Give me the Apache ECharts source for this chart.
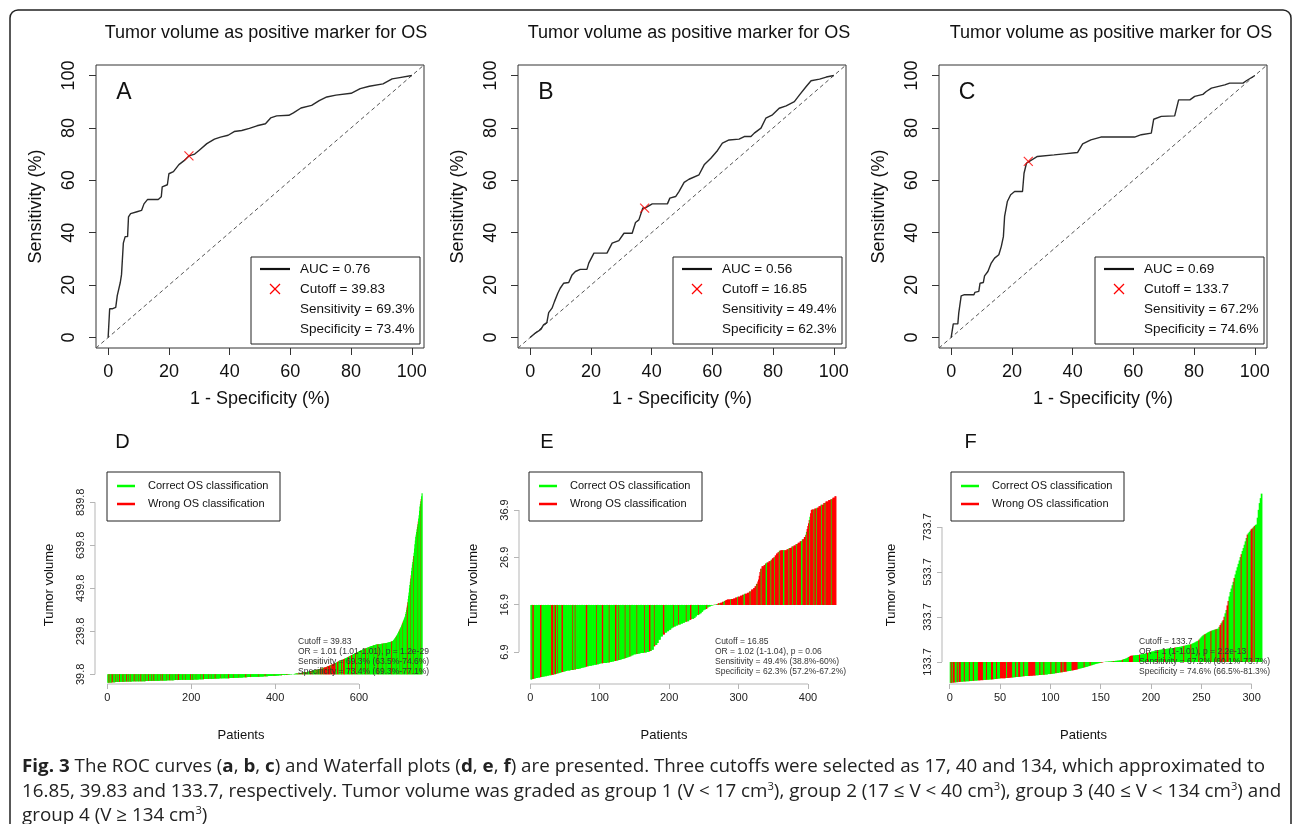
<!DOCTYPE html>
<html><head><meta charset="utf-8">
<script src="https://cdn.jsdelivr.net/npm/echarts@6/dist/echarts.min.js"></script>
<style>
html,body{margin:0;padding:0;background:#fff;overflow:hidden;width:1295px;height:824px;}
#chart{position:absolute;left:0;top:0;width:1295px;height:824px;}
#caption{position:absolute;left:22px;top:753px;font-family:"Open Sans",sans-serif;font-size:18.5px;line-height:24.5px;color:#222;white-space:nowrap;transform-origin:0 0;}
#caption b{font-weight:700;}
#caption sup{font-size:11px;line-height:0;vertical-align:super;}
#caption span{display:inline-block;}
</style></head><body>
<div id="chart"></div>
<div id="caption">
<div><span id="l1"><b>Fig. 3</b> The ROC curves (<b>a</b>, <b>b</b>, <b>c</b>) and Waterfall plots (<b>d</b>, <b>e</b>, <b>f</b>) are presented. Three cutoffs were selected as 17, 40 and 134, which approximated to</span></div>
<div><span>16.85, 39.83 and 133.7, respectively. Tumor volume was graded as group 1 (V &lt; 17 cm<sup>3</sup>), group 2 (17 ≤ V &lt; 40 cm<sup>3</sup>), group 3 (40 ≤ V &lt; 134 cm<sup>3</sup>) and</span></div>
<div><span>group 4 (V ≥ 134 cm<sup>3</sup>)</span></div>
</div>
<script>
// ---------------- DATA ----------------
const panelTitle = 'Tumor volume as positive marker for OS';
const rocTicks = [0, 20, 40, 60, 80, 100];
const rocAUC = [0.76, 0.56, 0.69];
const rocCutoff = ['39.83', '16.85', '133.7'];
const rocSens = [69.3, 49.4, 67.2];
const rocSpec = [73.4, 62.3, 74.6];

const A_fpr = [0,0.3,0.5,1.5,2.5,3,4,4.4,5,5.6,6.4,6.7,7.4,9.5,11,11.8,13,16.5,17.5,17.8,19.5,20,21.5,23.3,25,26.6,28.5,30,32.5,35,37,39.5,41.5,44,46.5,49,51.8,53.5,55.5,59.5,61,63.5,67,69.5,72,75,80,83,86,90.5,93.5,96,100];
const A_tpr = [0,0,11,11,11.5,16,21,24,36,38.5,38.5,46,47.3,48,48.5,51,52.7,52.7,53.7,57.5,58.3,62.5,63.3,66,67.5,69.3,70,71.5,74,75.7,76.5,77.2,78.6,79,79.8,80.8,81.6,83.8,84.6,84.8,85.7,87.6,88.6,90.4,91.8,92.5,93.2,95,95.9,96.8,98.7,99.2,100];
const B_fpr = [0,1.7,2.8,3.6,4.4,5.5,6.1,7.2,8,9.1,9.9,11,12.7,13.8,14.9,16.5,18.7,19.3,21,25.3,27,29.2,30.9,33.6,34.7,35.8,37.1,37.8,40.2,45.2,46,47.9,49,50.7,52.3,55.6,57.3,59.5,61.7,63.3,65.5,68.8,70.5,72.7,73.8,76,77.6,79.8,82,84.3,87,88.7,90.9,92.5,95.3,97.5,100];
const B_tpr = [0,1.7,2.5,3.2,4.8,5.7,9.5,11.2,13.7,16.9,18.8,20.7,21,23.9,25.2,26,26,28.4,32.2,32.2,36,37,39.8,39.8,43.9,44.9,49.4,49.4,51,51,53.2,53.8,55.7,59.2,60.4,62.1,65.9,68.4,71.4,74.2,75.4,75.7,76.7,76.7,78,79.9,83.7,85,87.5,88.4,90,92.6,95.8,98,98.6,99.4,100];
const C_fpr = [0,0.7,2.2,2.5,3.1,3.3,4.2,7.5,7.8,9.1,9.5,10.6,11,12.1,13.2,14.3,15.7,16.5,17.2,17.6,18.5,19.6,20.9,23.5,24,24.8,25.4,28.4,33.9,37.2,41.6,43.3,46,49.3,60.4,62.6,65.9,66.7,69.2,73.6,74.9,78.6,80.2,82.9,84,85.7,90.1,91.7,96.1,97.2,100];
const C_tpr = [0,5.2,5.2,9.3,9.3,15.9,16.3,16.3,17.2,17.6,20.7,21,23.5,25.2,28.4,30.3,31.6,34.7,38.5,46.2,51.9,54.5,55.7,55.7,62.7,66.5,67.2,69.1,69.7,70.1,70.6,73.9,75.4,76.5,76.5,77.4,78,83.3,84.4,84.6,90.7,90.7,92,92.8,93.9,95.2,96.4,97.1,97.1,98,100];

// Waterfall: sorted tumor volumes as [volume, number of consecutive patients]
const wfCutoff = [39.83, 16.85, 133.7];
const D_volumeRuns = [[1,3],[2,7],[3,8],[4,2],[4,8],[5,12],[6,10],[6,8],[7,16],[8,16],[9,10],[9,7],[10,17],[11,17],[12,9],
 [12,8],[13,17],[14,17],[15,8],[15,5],[16,12],[17,12],[18,12],[19,9],[19,4],[20,12],[21,12],[22,12],[23,10],
 [23,2],[24,10],[25,10],[26,10],[27,10],[28,8],[28,2],[29,10],[30,10],[31,10],[32,10],[33,8],
 [33,2],[34,6],[35,7],[36,7],[37,6],[38,6],[39,6],
 [40,3],[41,3],[42,3],[43,3],[44,3],[45,3],[46,2],[46,1],[47,3],[48,3],[49,3],[50,3],[51,3],[52,4],
 [53,2],[54,2],[55,2],[56,2],[57,2],[58,2],[59,3],[60,3],[61,2],[62,2],[63,2],[64,2],[65,2],[66,2],[67,2],[68,2],[70,2],[71,2],[72,2],
 [73,2],[75,2],[77,2],[78,2],[80,2],[82,2],[84,2],[85,2],[87,2],[89,2],[90,2],[92,2],[94,2],[96,2],[98,2],[100,2],[101,2],[103,2],[105,2],[107,2],
 [108,2],[110,2],[112,2],[114,2],[116,2],[118,2],[120,2],[122,2],[124,2],[126,2],[128,2],[130,2],[132,2],[134,2],[136,2],[138,2],[140,2],[142,2],[144,2],[146,2],
 [148,2],[150,2],[152,2],[153,2],[155,2],[157,2],[159,2],[160,2],[162,2],[163,2],[165,2],[166,2],[168,2],[169,2],[171,2],[172,2],[174,2],[175,2],[176,2],[177,2],
 [178,4],[179,4],[180,4],[182,4],[183,4],[184,3],[185,3],[186,3],[188,3],[190,3],[192,3],[194,2],
 [196,1],[198,1],[200,1],[203,1],[206,1],[209,1],[212,1],[215,1],[218,1],[221,1],
 [224,1],[228,1],[232,1],[236,1],[240,1],[244,1],[248,1],[252,1],[256,1],[260,1],
 [265,1],[270,1],[275,1],[280,1],[285,1],[290,1],[295,1],[300,1],[305,1],[310,1],
 [320,1],[330,1],[340,1],[350,1],[360,1],[375,1],[390,1],[405,1],[420,1],[440,1],
 [455,1],[470,1],[485,1],[500,1],[520,1],[535,1],[550,1],[562,1],[575,1],[590,1],
 [605,1],[625,1],[645,1],[662,1],[680,1],[690,1],[702,1],[714,1],[726,1],[738,1],
 [750,1],[765,1],[780,1],[800,1],[820,1],[832,1],[845,1],[855,1],[868,1],[882,1]];
const E_volumeRuns = [[1.1,2],[1.2,2],[1.3,3],[1.4,3],[1.5,4],[1.6,3],[1.7,3],[1.8,3],[1.9,3],[2.0,4],[2.1,3],
 [2.2,3],[2.3,2],[2.4,3],[2.5,2],[2.6,2],[2.7,2],[2.8,3],[2.9,2],[3.0,5],[3.1,5],[3.2,3],[3.3,4],[3.4,3],
 [3.5,2],[3.6,3],[3.7,2],[3.8,2],[3.9,3],[4.0,4],[4.1,3],[4.2,4],[4.3,3],[4.4,2],[4.5,4],[4.6,6],
 [4.7,4],[4.8,3],[4.9,3],[5.0,3],[5.1,3],[5.2,3],[5.3,2],[5.4,2],[5.5,2],[5.6,2],[5.7,2],
 [5.8,2],[5.9,2],[6.0,2],[6.2,3],[6.4,4],[6.5,3],[6.6,3],[6.7,5],[6.8,4],[6.9,4],[7.1,3],[7.4,3],
 [8.1,2],[8.4,3],[8.8,2],[9.5,3],[10.2,3],[10.6,3],[11.0,3],[11.3,3],[11.6,3],[11.9,2],[12.1,2],
 [12.3,3],[12.5,3],[12.7,4],[12.9,3],[13.1,3],[13.3,3],[13.4,3],[13.7,3],[13.9,4],
 [14.1,2],[14.4,2],[14.7,3],[14.9,2],[15.1,2],[15.4,2],[15.7,2],[15.9,2],[16.0,2],[16.3,2],[16.5,3],[16.7,3],[16.8,2],
 [16.9,3],[17.0,3],[17.2,3],[17.3,3],[17.5,3],[17.7,2],[17.9,2],[18.0,5],[18.1,4],[18.2,3],[18.4,3],[18.6,4],
 [18.8,3],[19.0,3],[19.2,4],[19.4,3],[19.7,3],[20.1,3],[20.4,2],[20.8,2],[21.3,2],[21.8,1],
 [22.2,1],[23.0,1],[23.8,1],[24.5,2],[25.0,3],[25.3,2],[25.6,2],[25.8,3],[26.1,3],[26.4,2],[26.7,2],
 [26.9,2],[27.3,2],[27.7,2],[28.0,2],[28.3,2],[28.4,9],[28.6,3],[28.9,4],[29.2,3],[29.4,3],[29.7,3],[30.0,3],
 [30.3,3],[30.7,3],[31.2,2],[31.7,1],[32.3,1],[32.9,1],[33.5,1],[34.1,1],[34.8,1],[35.5,1],[36.2,1],[36.9,1],
 [37.0,4],[37.2,3],[37.4,3],[37.7,3],[38.0,4],[38.4,3],[38.7,4],[39.0,3],[39.2,3],[39.5,3],[39.8,2]];
const F_volumeRuns = [[41,2],[42,2],[43,2],[44,2],[45,2],[46,3],[47,3],[48,3],[49,3],[50,2],
 [51,3],[52,3],[53,3],[54,3],[55,3],[56,3],[57,2],[58,2],[59,2],[60,2],
 [61,3],[62,2],[63,3],[64,2],[65,3],[66,2],[67,3],[68,2],[69,2],[70,2],[71,2],
 [72,3],[73,3],[74,3],[75,3],[76,3],[77,3],[78,3],[80,3],
 [81,2],[82,2],[84,2],[85,2],[87,2],[88,2],[90,2],[91,2],[93,2],[94,2],[96,2],[97,1],
 [98,1],[99,1],[100,1],[101,1],[103,1],[104,1],[105,1],[106,1],[107,1],[108,1],[110,1],[111,1],[112,1],
 [113,1],[115,1],[116,1],[118,1],[119,1],[120,1],[122,1],[123,1],[125,1],[126,1],
 [127,1],[128,1],[129,1],[130,1],[131,1],[132,1],[134,2],[135,3],[136,3],
 [137,2],[138,2],[139,2],[140,2],[141,2],[142,1],[144,1],[146,1],[147,1],[149,1],
 [150,1],[153,1],[156,1],[158,1],[161,1],[162,2],[163,2],[164,2],[165,2],[167,2],
 [168,2],[170,2],[172,2],[175,2],[178,2],[180,2],[182,2],[184,2],[186,2],[188,2],[189,2],[191,1],
 [192,2],[193,2],[194,2],[195,2],[196,2],[198,2],[199,1],[200,2],[202,2],[204,2],[206,2],[208,2],[210,2],[212,1],
 [213,1],[215,1],[217,1],[219,1],[221,1],[224,1],[226,1],[228,1],[233,1],[238,1],[243,1],[248,1],[252,1],
 [255,1],[258,1],[260,1],[263,1],[266,1],[268,1],[270,1],[272,1],[274,1],[275,1],[277,1],[278,1],[280,1],[281,1],
 [282,1],[290,1],[298,1],[306,1],[314,1],[320,1],[335,1],[350,1],[365,1],[385,1],[405,1],[425,1],
 [445,1],[460,1],[475,1],[490,1],[507,1],[523,1],[540,1],[555,1],[570,1],[585,1],[600,1],[613,1],[627,1],
 [640,1],[655,1],[670,1],[685,1],[700,1],[706,1],[712,1],[718,1],[724,1],[728,1],[733,1],[738,1],[743,1],
 [745,1],[775,1],[810,1],[840,1],[862,1],[882,1]];
// Classification per patient as alternating run lengths: correct, wrong, correct, wrong, ...
const D_classRuns = [3,2,4,1,2,2,5,1,3,1,4,2,6,1,2,1,5,2,3,1,4,1,7,2,3,1,5,1,4,2,6,1,3,1,5,2,
 6,1,4,2,8,1,5,1,3,2,9,1,6,2,4,1,7,1,5,3,8,1,6,1,10,2,4,1,7,1,
 9,1,6,2,11,1,5,1,8,2,12,1,7,1,9,2,10,1,
 12,1,15,2,10,1,18,1,14,2,20,1,16,1,12,2,22,1,
 3,2,4,1,2,3,5,2,3,1,4,3,2,2,6,1,3,2,4,1,2,3,3,2,
 1,8,1,6,2,10,
 4,3,6,2,3,4,8,2,5,3,7,2,4,1,
 7,1,9,2,6,1,11,1,8,2,10,1,7,1,12,2,9,1,
 8,1,6,1,9,2,7,1,5,1,10,1,6,1,2];
const E_classRuns = [3,2,9,2,14,3,2,2,2,1,5,2,13,1,3,1,15,2,13,1,7,2,8,1,8,2,3,1,8,1,6,1,9,1,10,1,6,2,5,1,12,2,13,1,6,1,10,1,5,2,10,1,10,1,
 10,2,3,3,1,5,2,8,1,9,1,8,2,7,1,9,1,5,1,6,2,5,1,4,1,6,1,5,2,6,1,4,1,5,1,6,2,5,1,4,1,5,1,3,1,6,1,4,1,8,1,6];
const F_classRuns = [1,1,1,2,2,1,1,2,3,1,4,1,3,1,4,
 5,3,1,4,2,3,1,3,6,1,5,3,1,2,2,3,1,4,7,4,1,3,1,6,1,4,1,4,2,1,3,5,6,6,1,5,1,10,2,
 10,1,8,1,6,4,6,1,7,1,9,1,6,1,9,1,8,1,6,1,7,1,5,1,5,1,4,1,3,2,1,2,2,2,5,1,6,1,5,1,3,2,1,1,7];

const D_xTicks = [0, 200, 400, 600];
const E_xTicks = [0, 100, 200, 300, 400];
const F_xTicks = [0, 50, 100, 150, 200, 250, 300];
const D_yTicks = [39.8, 239.8, 439.8, 639.8, 839.8];
const E_yTicks = [6.9, 16.9, 26.9, 36.9];
const F_yTicks = [133.7, 333.7, 533.7, 733.7];
const wfStats = [
 ['Cutoff = 39.83', 'OR = 1.01 (1.01-1.01), p = 1.2e-29', 'Sensitivity = 69.3% (63.5%-74.6%)', 'Specificity = 73.4% (69.3%-77.1%)'],
 ['Cutoff = 16.85', 'OR = 1.02 (1-1.04), p = 0.06', 'Sensitivity = 49.4% (38.8%-60%)', 'Specificity = 62.3% (57.2%-67.2%)'],
 ['Cutoff = 133.7', 'OR = 1 (1-1.01), p = 2.2e-13', 'Sensitivity = 67.2% (60.1%-73.7%)', 'Specificity = 74.6% (66.5%-81.3%)']];
const legendLabels = ['Correct OS classification', 'Wrong OS classification'];

// ---------------- BUILD ----------------
const FONT = '"Liberation Sans", Arial, Helvetica, sans-serif';
const GREEN = '#00ff00', RED = '#ff0000';
function expandVolumes(runs){ const out=[]; runs.forEach(r=>{ for(let k=0;k<r[1];k++) out.push(r[0]); }); return out; }
function expandClass(runs){ const out=[]; runs.forEach((c,j)=>{ for(let k=0;k<c;k++) out.push(j%2); }); return out; }
function wfRows(vr, cr){ const v=expandVolumes(vr), c=expandClass(cr); return v.map((x,i)=>[i, x, c[i]||0]); }
const wfData = [wfRows(D_volumeRuns,D_classRuns), wfRows(E_volumeRuns,E_classRuns), wfRows(F_volumeRuns,F_classRuns)];
const rocPts = [[A_fpr,A_tpr],[B_fpr,B_tpr],[C_fpr,C_tpr]].map(p=>p[0].map((x,j)=>[x,p[1][j]]));

const rocGrid = [{left:96,top:65,width:328,height:283},{left:518,top:65,width:328,height:283},{left:939,top:65,width:328,height:283}];
const wfGrid = [{left:95,top:490,width:330,height:194},{left:519,top:490,width:321,height:194},{left:942,top:480,width:328,height:204}];
const wfRange = [{x:[-29.3,757.3],y:[-5.3,897.0]},{x:[-16.28,446.1],y:[0.139,41.13]},{x:[-7.65,318.2],y:[35.9,942.6]}];
const wfXT = [D_xTicks,E_xTicks,F_xTicks], wfYT = [D_yTicks,E_yTicks,F_yTicks];

const grids=[], xAxes=[], yAxes=[], series=[], gfx=[];
rocGrid.forEach((g,k)=>{
  grids.push(Object.assign({show:true,borderColor:'#333',borderWidth:1},g));
  xAxes.push({gridIndex:k,type:'value',min:-4,max:104,axisLine:{show:false,onZero:false},splitLine:{show:false},
    axisTick:{show:true,inside:false,customValues:rocTicks,length:7,lineStyle:{color:'#333',width:1}},
    axisLabel:{customValues:rocTicks,margin:15,fontSize:18,color:'#111',fontFamily:FONT},
    name:'1 - Specificity (%)',nameLocation:'middle',nameGap:42,nameTextStyle:{fontSize:18,color:'#111',fontFamily:FONT}});
  yAxes.push({gridIndex:k,type:'value',min:-4,max:104,axisLine:{show:false,onZero:false},splitLine:{show:false},
    axisTick:{show:true,inside:false,customValues:rocTicks,length:7,lineStyle:{color:'#333',width:1}},
    axisLabel:{customValues:rocTicks,margin:18,rotate:90,fontSize:18,color:'#111',fontFamily:FONT},
    name:'Sensitivity (%)',nameLocation:'middle',nameGap:51,nameTextStyle:{fontSize:18,color:'#111',fontFamily:FONT}});
  series.push({type:'line',xAxisIndex:k,yAxisIndex:k,data:[[-4,-4],[104,104]],symbol:'none',silent:true,
    lineStyle:{color:'#555',width:1,type:[4,3]}});
  series.push({type:'line',xAxisIndex:k,yAxisIndex:k,data:rocPts[k],symbol:'none',silent:true,
    lineStyle:{color:'#2a2a2a',width:1.4}});
  series.push({type:'scatter',xAxisIndex:k,yAxisIndex:k,data:[[100-rocSpec[k],rocSens[k]]],silent:true,
    symbol:'path://M0,0L10,10M10,0L0,10',symbolSize:9,z:5,
    itemStyle:{color:'rgba(0,0,0,0)',borderColor:RED,borderWidth:1.2}});
  const tcx = [266,689,1111][k];
  gfx.push({type:'text',x:tcx,y:33,z:100,style:{text:panelTitle,fontSize:18,fontFamily:FONT,fill:'#111',align:'center',verticalAlign:'middle'}});
  gfx.push({type:'text',x:g.left+28,y:93,z:100,style:{text:'ABC'[k],fontSize:23,fontFamily:FONT,fill:'#111',align:'center',verticalAlign:'middle'}});
  const bx=[251,673,1095][k], by=257;
  gfx.push({type:'rect',z:100,shape:{x:bx,y:by,width:169,height:87},style:{fill:'#fff',stroke:'#222',lineWidth:1}});
  gfx.push({type:'line',z:101,shape:{x1:bx+9,y1:by+12,x2:bx+39,y2:by+12},style:{stroke:'#111',lineWidth:2.2}});
  gfx.push({type:'line',z:101,shape:{x1:bx+19,y1:by+27,x2:bx+29,y2:by+37},style:{stroke:RED,lineWidth:1.2}});
  gfx.push({type:'line',z:101,shape:{x1:bx+29,y1:by+27,x2:bx+19,y2:by+37},style:{stroke:RED,lineWidth:1.2}});
  const lt=['AUC = '+rocAUC[k].toFixed(2),'Cutoff = '+rocCutoff[k],'Sensitivity = '+rocSens[k].toFixed(1)+'%','Specificity = '+rocSpec[k].toFixed(1)+'%'];
  lt.forEach((s,j)=>gfx.push({type:'text',x:bx+49,y:by+12+20*j,z:101,style:{text:s,fontSize:13.5,fontFamily:FONT,fill:'#111',align:'left',verticalAlign:'middle'}}));
});

wfGrid.forEach((g,k)=>{
  const gi=3+k, cut=wfCutoff[k], r=wfRange[k], xt=wfXT[k], yt=wfYT[k];
  grids.push(Object.assign({show:false},g));
  xAxes.push({gridIndex:gi,type:'value',min:r.x[0],max:r.x[1],axisLine:{show:false,onZero:false},splitLine:{show:false},
    axisTick:{show:true,inside:false,customValues:xt,length:5,lineStyle:{color:'#b5b5b5'}},
    axisLabel:{customValues:xt,margin:8,fontSize:11,color:'#222',fontFamily:FONT}});
  yAxes.push({gridIndex:gi,type:'value',min:r.y[0],max:r.y[1],axisLine:{show:false,onZero:false},splitLine:{show:false},
    axisTick:{show:true,inside:false,customValues:yt,length:5,lineStyle:{color:'#b5b5b5'}},
    axisLabel:{customValues:yt,margin:9,rotate:90,fontSize:11,color:'#222',fontFamily:FONT,formatter:v=>(+v).toFixed(1)}});
  series.push({type:'custom',xAxisIndex:gi,yAxisIndex:gi,data:wfData[k],silent:true,encode:{x:0,y:1},
    renderItem:function(params,api){
      const i=api.value(0), v=api.value(1), c=api.value(2);
      const p0=api.coord([i,cut]), p1=api.coord([i+1,v]);
      return {type:'rect',shape:{x:p0[0],y:Math.min(p0[1],p1[1]),width:(p1[0]-p0[0])+0.7,height:Math.abs(p1[1]-p0[1])},
        style:{fill:c?RED:GREEN}};
    }});
  series.push({type:'line',xAxisIndex:gi,yAxisIndex:gi,data:[[xt[0],r.y[0]],[xt[xt.length-1],r.y[0]]],symbol:'none',clip:false,silent:true,
    lineStyle:{color:'#b5b5b5',width:1}});
  series.push({type:'line',xAxisIndex:gi,yAxisIndex:gi,data:[[r.x[0],yt[0]],[r.x[0],yt[yt.length-1]]],symbol:'none',clip:false,silent:true,
    lineStyle:{color:'#b5b5b5',width:1}});
  const lx=[122.5,547,970.5][k];
  gfx.push({type:'text',x:lx,y:442,z:100,style:{text:'DEF'[k],fontSize:20,fontFamily:FONT,fill:'#111',align:'center',verticalAlign:'middle'}});
  const bx=[107,529,951][k], by=472;
  gfx.push({type:'rect',z:100,shape:{x:bx,y:by,width:173,height:49},style:{fill:'#fff',stroke:'#222',lineWidth:1}});
  [GREEN,RED].forEach((col,j)=>{
    gfx.push({type:'line',z:101,shape:{x1:bx+10,y1:by+14+18*j,x2:bx+28,y2:by+14+18*j},style:{stroke:col,lineWidth:2.5}});
    gfx.push({type:'text',x:bx+41,y:by+14+18*j,z:101,style:{text:legendLabels[j],fontSize:11,fontFamily:FONT,fill:'#111',align:'left',verticalAlign:'middle'}});
  });
  gfx.push({type:'text',x:[49,473,891.5][k],y:585,rotation:Math.PI/2,z:100,style:{text:'Tumor volume',fontSize:13,fontFamily:FONT,fill:'#111',align:'center',verticalAlign:'middle'}});
  gfx.push({type:'text',x:[241,664,1083.5][k],y:735,z:100,style:{text:'Patients',fontSize:13,fontFamily:FONT,fill:'#111',align:'center',verticalAlign:'middle'}});
  const sx=[298,715,1139][k];
  wfStats[k].forEach((s,j)=>gfx.push({type:'text',x:sx,y:642+10*j,z:100,style:{text:s,fontSize:8.5,fontFamily:FONT,fill:'#333',align:'left',verticalAlign:'middle'}}));
});
gfx.push({type:'rect',z:99,shape:{x:10,y:10,width:1281,height:840,r:8},style:{fill:'none',stroke:'#222',lineWidth:1.5}});

const chart = echarts.init(document.getElementById('chart'), null, {renderer:'canvas'});
chart.setOption({animation:false,backgroundColor:'#fff',grid:grids,xAxis:xAxes,yAxis:yAxes,series:series,graphic:{elements:gfx}});

// fit caption line 1 to the reference width
const l1=document.getElementById('l1');
const w=l1.getBoundingClientRect().width;
if(w>0){ document.getElementById('caption').style.transform='scaleX('+(1243/w)+')'; }
</script>
</body></html>
